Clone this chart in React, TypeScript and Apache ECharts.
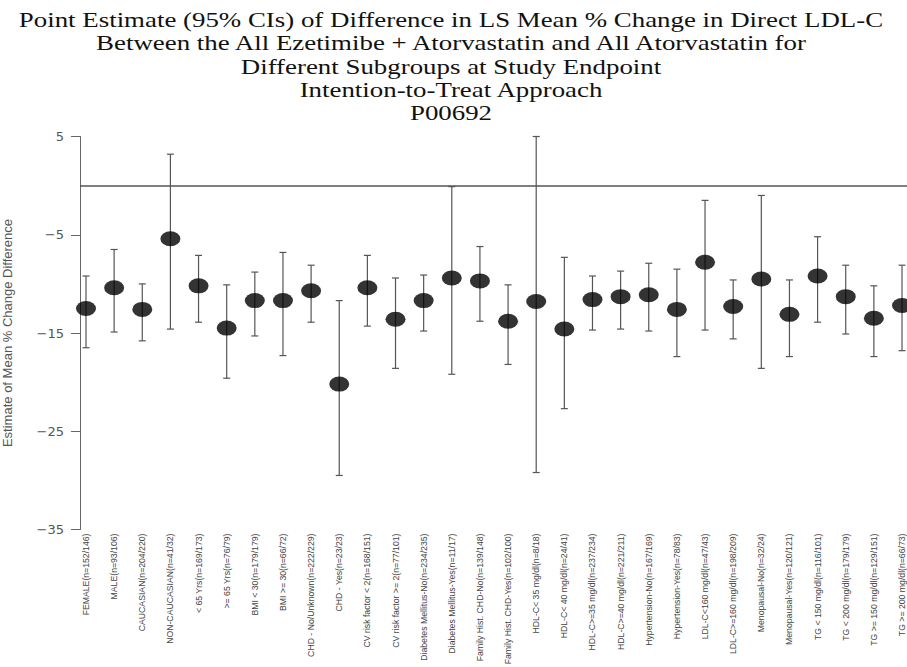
import React, { useEffect, useRef } from "react";
import * as echarts from "echarts";

const titleLines = [
  "Point Estimate (95% CIs) of Difference in LS Mean % Change in Direct LDL-C",
  "Between the All Ezetimibe + Atorvastatin and All Atorvastatin for",
  "Different Subgroups at Study Endpoint",
  "Intention-to-Treat Approach",
  "P00692",
];

const yAxisTitle = "Estimate of Mean % Change Difference";

const categories = [
  "FEMALE(n=152/146)",
  "MALE(n=93/106)",
  "CAUCASIAN(n=204/220)",
  "NON-CAUCASIAN(n=41/32)",
  "< 65 Yrs(n=169/173)",
  ">= 65 Yrs(n=76/79)",
  "BMI < 30(n=179/179)",
  "BMI >= 30(n=66/72)",
  "CHD - No/Unknown(n=222/229)",
  "CHD - Yes(n=23/23)",
  "CV risk factor < 2(n=168/151)",
  "CV risk factor >= 2(n=77/101)",
  "Diabetes Mellitus-No(n=234/235)",
  "Diabetes Mellitus-Yes(n=11/17)",
  "Family Hist. CHD-No(n=139/148)",
  "Family Hist. CHD-Yes(n=102/100)",
  "HDL-C< 35 mg/dl(n=8/18)",
  "HDL-C< 40 mg/dl(n=24/41)",
  "HDL-C>=35 mg/dl(n=237/234)",
  "HDL-C>=40 mg/dl(n=221/211)",
  "Hypertension-No(n=167/169)",
  "Hypertension-Yes(n=78/83)",
  "LDL-C<160 mg/dl(n=47/43)",
  "LDL-C>=160 mg/dl(n=198/209)",
  "Menopausal-No(n=32/24)",
  "Menopausal-Yes(n=120/121)",
  "TG < 150 mg/dl(n=116/101)",
  "TG < 200 mg/dl(n=179/179)",
  "TG >= 150 mg/dl(n=129/151)",
  "TG >= 200 mg/dl(n=66/73)",
];

const estimates = [
  -12.5, -10.4, -12.6, -5.4, -10.2, -14.5, -11.7, -11.7, -10.7, -20.2,
  -10.4, -13.6, -11.7, -9.4, -9.7, -13.8, -11.8, -14.6, -11.6, -11.3,
  -11.1, -12.6, -7.8, -12.3, -9.5, -13.1, -9.2, -11.3, -13.5, -12.2,
];

const lowerCI = [
  -16.5, -14.9, -15.8, -14.6, -13.9, -19.6, -15.3, -17.3, -13.9, -29.5,
  -14.3, -18.6, -14.8, -19.2, -13.8, -18.2, -29.2, -22.7, -14.7, -14.6,
  -14.8, -17.4, -14.7, -15.6, -18.6, -17.4, -13.9, -15.1, -17.4, -16.8,
];

const upperCI = [
  -9.2, -6.5, -10.0, 3.2, -7.1, -10.1, -8.8, -6.8, -8.1, -11.7,
  -7.1, -9.4, -9.1, -0.1, -6.2, -10.1, 5.0, -7.3, -9.2, -8.7,
  -7.9, -8.5, -1.5, -9.6, -1.0, -9.6, -5.2, -8.1, -10.2, -8.1,
];

const yTicks = [5, -5, -15, -25, -35];

export default function App() {
  const ref = useRef<HTMLDivElement>(null);

  useEffect(() => {
    if (!ref.current) return;
    const chart = echarts.init(ref.current, null, { renderer: "svg" });

    const xs = categories.map((_, i) => i + 1);
    const pointData = estimates.map((v, i) => [xs[i], v]);
    const ciData = estimates.map((_, i) => [xs[i], lowerCI[i], upperCI[i]]);

    const barColor = "#555";

    const option: any = {
      animation: false,
      backgroundColor: "#fff",
      grid: {
        left: 80,
        top: 136.5,
        width: 828,
        height: 393,
        containLabel: false,
        outerBoundsMode: "none",
      },
      xAxis: {
        type: "value",
        min: 0.787,
        max: 30.213,
        axisLine: { show: false },
        axisTick: { show: false },
        splitLine: { show: false },
        axisLabel: {
          customValues: xs,
          rotate: 90,
          margin: 4,
          fontSize: 8.7,
          color: "#444",
          fontFamily: "'Liberation Sans', Arial, sans-serif",
          formatter: (v: number) => {
            const i = Math.round(v) - 1;
            return Math.abs(v - Math.round(v)) < 1e-6 && i >= 0 && i < categories.length
              ? categories[i]
              : "";
          },
        },
      },
      yAxis: {
        type: "value",
        min: -35,
        max: 5,
        axisLine: { show: true, lineStyle: { color: "#666", width: 1 } },
        axisTick: {
          show: true,
          customValues: yTicks,
          length: 9,
          lineStyle: { color: "#666" },
        },
        splitLine: { show: false },
        axisLabel: {
          customValues: yTicks,
          margin: 16,
          fontSize: 13,
          color: "#555",
          fontFamily: "'DejaVu Sans', sans-serif",
          formatter: (v: number) => String(v).replace("-", "\u2212"),
        },
      },
      graphic: [
        ...titleLines.map((t, i) => ({
          type: "text",
          x: 451,
          y: 20 + i * 23.3,
          scaleX: 1.28,
          style: {
            text: t,
            fill: "#111",
            font: "21px 'Liberation Serif', 'Times New Roman', serif",
            textAlign: "center",
            textVerticalAlign: "middle",
          },
        })),
        {
          type: "text",
          x: 7,
          y: 333,
          rotation: Math.PI / 2,
          style: {
            text: yAxisTitle,
            fill: "#555",
            font: "13px 'Liberation Sans', Arial, sans-serif",
            textAlign: "center",
            textVerticalAlign: "middle",
          },
        },
      ],
      series: [
        {
          type: "custom",
          name: "95% CI",
          data: ciData,
          encode: { x: 0, y: [1, 2] },
          z: 2,
          renderItem: (_params: any, api: any) => {
            const x = api.value(0);
            const lo = api.coord([x, api.value(1)]);
            const hi = api.coord([x, api.value(2)]);
            const w = 3.5;
            const st = { stroke: barColor, lineWidth: 1.2 };
            return {
              type: "group",
              children: [
                { type: "line", shape: { x1: lo[0], y1: lo[1], x2: hi[0], y2: hi[1] }, style: st },
                { type: "line", shape: { x1: lo[0] - w, y1: lo[1], x2: lo[0] + w, y2: lo[1] }, style: st },
                { type: "line", shape: { x1: hi[0] - w, y1: hi[1], x2: hi[0] + w, y2: hi[1] }, style: st },
              ],
            };
          },
        },
        {
          type: "scatter",
          name: "Estimate",
          data: pointData,
          z: 3,
          symbol: "path://M0,7A10,7 0 1,0 20,7A10,7 0 1,0 0,7Z",
          symbolSize: [20, 15],
          itemStyle: { color: "#000" },
          markLine: {
            silent: true,
            symbol: ["none", "none"],
            label: { show: false },
            lineStyle: { color: "#555", width: 1.5, type: "solid" },
            data: [{ yAxis: 0 }],
          },
        },
      ],
    };

    chart.setOption(option);
    return () => chart.dispose();
  }, []);

  return (
    <div
      ref={ref}
      style={{ position: "fixed", left: 0, top: 0, width: 907, height: 667, background: "#fff" }}
    />
  );
}
